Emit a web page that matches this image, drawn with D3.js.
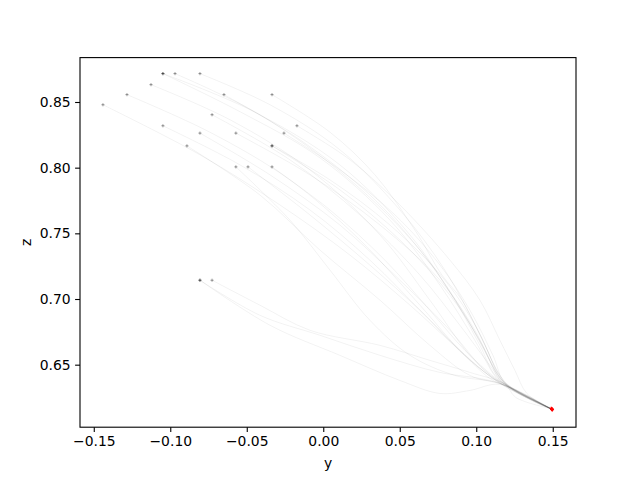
<!DOCTYPE html>
<html><head><meta charset="utf-8">
<script src="https://cdn.jsdelivr.net/npm/d3@7"></script>
<style>
html,body{margin:0;padding:0;background:#fff;}
text{font-family:"DejaVu Sans",sans-serif;}
</style></head>
<body><svg id="c" width="640" height="480"></svg>
<script>
// Trajectory data (y, z)
const trajY = [
  [-0.1048,-0.0544,-0.0022,0.0436,0.0763,0.0991,0.1135,0.1207,0.1495],
  [-0.1048,-0.0479,0.0109,0.0567,0.0861,0.1057,0.1155,0.1220,0.1492],
  [-0.0969,-0.0414,0.0175,0.0632,0.0907,0.1089,0.1188,0.1498],
  [-0.0806,-0.0348,0.0109,0.0501,0.0795,0.1011,0.1155,0.1220,0.1495],
  [-0.1126,-0.0610,-0.0087,0.0371,0.0697,0.0959,0.1155,0.1490],
  [-0.1283,-0.0741,-0.0218,0.0240,0.0632,0.0926,0.1168,0.1495],
  [-0.1440,-0.0806,-0.0283,0.0175,0.0567,0.0893,0.1155,0.1497],
  [-0.0649,-0.0152,0.0305,0.0632,0.0861,0.1024,0.1142,0.1493],
  [-0.0335,0.0044,0.0338,0.0599,0.0776,0.0907,0.1057,0.1188,0.1495],
  [-0.0727,-0.0218,0.0240,0.0632,0.0893,0.1089,0.1188,0.1496],
  [-0.1048,-0.0544,-0.0087,0.0305,0.0665,0.0959,0.1174,0.1494],
  [-0.0172,0.0175,0.0501,0.0828,0.1024,0.1155,0.1253,0.1331,0.1498],
  [-0.0806,-0.0348,0.0109,0.0501,0.0828,0.1057,0.1207,0.1495],
  [-0.0571,-0.0087,0.0371,0.0763,0.0991,0.1122,0.1207,0.1492],
  [-0.0257,0.0109,0.0469,0.0763,0.0959,0.1109,0.1194,0.1496],
  [-0.0891,-0.0414,-0.0022,0.0371,0.0697,0.0959,0.1188,0.1495],
  [-0.0335,0.0044,0.0436,0.0795,0.1011,0.1142,0.1220,0.1495],
  [-0.0335,0.0109,0.0501,0.0828,0.1024,0.1155,0.1233,0.1493],
  [-0.0571,-0.0218,0.0044,0.0305,0.0567,0.0861,0.1155,0.1495],
  [-0.0492,-0.0087,0.0305,0.0632,0.0893,0.1089,0.1188,0.1497],
  [-0.0335,0.0044,0.0403,0.0697,0.0926,0.1122,0.1207,0.1494],
  [-0.0806,-0.0414,-0.0022,0.0371,0.0763,0.1024,0.1155,0.1495],
  [-0.0806,-0.0348,0.0109,0.0501,0.0763,0.0959,0.1155,0.1496],
  [-0.0727,-0.0414,-0.0087,0.0371,0.0697,0.0959,0.1188,0.1259,0.1492]
];
const trajZ = [
  [0.8716,0.8426,0.8075,0.7601,0.7105,0.6685,0.6395,0.6342,0.6159],
  [0.8716,0.8441,0.8021,0.7487,0.6991,0.6609,0.6380,0.6334,0.6165],
  [0.8716,0.8403,0.7907,0.7373,0.6914,0.6533,0.6357,0.6157],
  [0.8716,0.8479,0.8136,0.7678,0.7220,0.6762,0.6418,0.6334,0.6162],
  [0.8632,0.8365,0.7983,0.7487,0.6991,0.6571,0.6365,0.6170],
  [0.8556,0.8270,0.7907,0.7449,0.6953,0.6571,0.6350,0.6159],
  [0.8479,0.8098,0.7716,0.7334,0.6953,0.6609,0.6357,0.6160],
  [0.8556,0.8212,0.7792,0.7373,0.6991,0.6647,0.6395,0.6163],
  [0.8556,0.8270,0.7945,0.7525,0.7182,0.6991,0.6647,0.6357,0.6159],
  [0.8403,0.8060,0.7640,0.7182,0.6800,0.6495,0.6350,0.6158],
  [0.8319,0.8021,0.7678,0.7296,0.6876,0.6533,0.6350,0.6161],
  [0.8319,0.8060,0.7716,0.7296,0.6991,0.6685,0.6456,0.6281,0.6156],
  [0.8263,0.7945,0.7563,0.7143,0.6762,0.6456,0.6334,0.6159],
  [0.8263,0.7945,0.7563,0.7143,0.6762,0.6456,0.6342,0.6166],
  [0.8263,0.7983,0.7640,0.7258,0.6914,0.6571,0.6350,0.6158],
  [0.8166,0.7792,0.7373,0.6991,0.6647,0.6418,0.6342,0.6159],
  [0.8166,0.7907,0.7563,0.7143,0.6762,0.6441,0.6334,0.6159],
  [0.8166,0.7831,0.7449,0.7029,0.6685,0.6395,0.6319,0.6164],
  [0.8006,0.7601,0.7220,0.6838,0.6571,0.6418,0.6357,0.6159],
  [0.8006,0.7640,0.7258,0.6914,0.6609,0.6395,0.6342,0.6160],
  [0.8006,0.7678,0.7296,0.6914,0.6609,0.6403,0.6334,0.6161],
  [0.7143,0.6876,0.6724,0.6571,0.6441,0.6395,0.6357,0.6159],
  [0.7143,0.6800,0.6571,0.6380,0.6281,0.6304,0.6350,0.6158],
  [0.7143,0.6953,0.6762,0.6647,0.6533,0.6441,0.6350,0.6250,0.6165]
];
const xTicks = [-0.15,-0.10,-0.05,0.00,0.05,0.10,0.15];
const yTicks = [0.65,0.70,0.75,0.80,0.85];
const xDomain = [-0.159, 0.1652];
const yDomain = [0.6024, 0.8838];
const xLabel = "y", yLabel = "z";

const svg = d3.select("#c");
const L = 80, R = 576, T = 57.6, B = 427.2;
const x = d3.scaleLinear().domain(xDomain).range([L, R]);
const y = d3.scaleLinear().domain(yDomain).range([B, T]);

const paths = trajY.map((ys, i) => ys.map((v, j) => [v, trajZ[i][j]]));
const line = d3.line().x(d => x(d[0])).y(d => y(d[1])).curve(d3.curveCatmullRom.alpha(0.5));

const g = svg.append("g");
g.selectAll("path.traj").data(paths).join("path")
  .attr("class","traj")
  .attr("d", line)
  .attr("fill","none")
  .attr("stroke","#000")
  .attr("stroke-opacity",0.08)
  .attr("stroke-width",0.7);

// start markers
const plus = (cx, cy, r) => `M${cx-r},${cy}H${cx+r}M${cx},${cy-r}V${cy+r}`;
g.selectAll("path.start").data(paths).join("path")
  .attr("class","start")
  .attr("d", p => plus(x(p[0][0]), y(p[0][1]), 1.6))
  .attr("stroke","#000").attr("stroke-opacity",0.4).attr("stroke-width",0.9).attr("fill","none");
// end markers
g.selectAll("path.end").data(paths).join("path")
  .attr("class","end")
  .attr("d", p => { const q = p[p.length-1]; return plus(x(q[0]), y(q[1]), 1.6); })
  .attr("stroke","#ff0000").attr("stroke-opacity",0.5).attr("stroke-width",1).attr("fill","none");

// axes
const xAxis = d3.axisBottom(x).tickValues(xTicks).tickSize(4.9).tickPadding(4.5)
  .tickFormat(d => d3.format(".2f")(d).replace("-", "\u2212"));
const yAxis = d3.axisLeft(y).tickValues(yTicks).tickSize(4.9).tickPadding(4.5)
  .tickFormat(d3.format(".2f"));
const gx = svg.append("g").attr("transform",`translate(0,${B})`).call(xAxis);
const gy = svg.append("g").attr("transform",`translate(${L},0)`).call(yAxis);
[gx, gy].forEach(a => {
  a.select(".domain").remove();
  a.selectAll("line").attr("stroke","#000").attr("stroke-width",1.1);
  a.selectAll("text").attr("font-size","13.9px").attr("fill","#000").attr("font-family","DejaVu Sans");
});
svg.append("rect").attr("x",L).attr("y",T).attr("width",R-L).attr("height",B-T)
  .attr("fill","none").attr("stroke","#000").attr("stroke-width",1.1);

svg.append("text").attr("x",(L+R)/2).attr("y",468).attr("text-anchor","middle")
  .attr("font-size","13.9px").text(xLabel);
svg.append("text").attr("transform",`translate(31,${(T+B)/2}) rotate(-90)`).attr("text-anchor","middle")
  .attr("font-size","13.9px").text(yLabel);
</script></body></html>
